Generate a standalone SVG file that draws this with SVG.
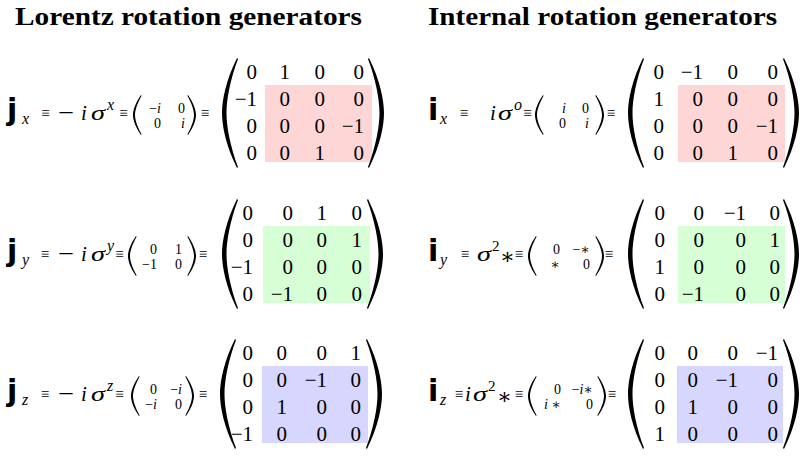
<svg xmlns="http://www.w3.org/2000/svg" xmlns:xlink="http://www.w3.org/1999/xlink" width="800" height="457" viewBox="0 0 800 457">
<style>
text{font-family:"Liberation Serif","DejaVu Serif",serif;fill:#000}
.ttl{font-size:25px;font-weight:bold}
.b{font-family:"DejaVu Sans","Liberation Sans",sans-serif;font-weight:bold;font-size:30px}
.it{font-style:italic}
.sub{font-size:16px;font-style:italic}
.eq{font-size:15px;text-anchor:middle}
.mi{font-size:22px}
.v{font-size:21px;font-style:italic}
.sg{font-size:22px;font-style:italic}
.s{font-size:14px;text-anchor:end}
.m text{font-size:21px;text-anchor:end}
.red{fill:#ffd6d6}
.grn{fill:#d6ffd6}
.blu{fill:#d6d6ff}
.p{fill:#000}
</style>
<defs>
<path id="bl" class="p" d="M15,0 C4,22 0,42 0,55 C0,68 4,88 15,110 L16,109 C8,88 4.5,68 4.5,55 C4.5,42 8,22 16,1 Z"/>
<path id="sl" class="p" d="M8,0 C2.5,8 0,15 0,20 C0,25 2.5,32 8,40 L8.6,39.3 C4.5,32 2,25 2,20 C2,15 4.5,8 8.6,0.7 Z"/>
</defs>
<rect width="800" height="457" fill="#fff"/>
<text class="ttl" x="15" y="25" textLength="347" lengthAdjust="spacingAndGlyphs">Lorentz rotation generators</text>
<text class="ttl" x="428" y="25" textLength="349" lengthAdjust="spacingAndGlyphs">Internal rotation generators</text>

<g id="jx">
<text class="b" x="7" y="120">j</text>
<text class="sub" x="22" y="124">x</text>
<text class="eq" x="45.5" y="118">≡</text>
<text class="mi" x="58" y="120" textLength="16" lengthAdjust="spacingAndGlyphs">−</text>
<text class="v" x="81" y="120">i</text>
<text class="sg" x="91" y="120" textLength="14" lengthAdjust="spacingAndGlyphs">σ</text>
<text class="sub" x="107" y="110">x</text>
<text class="eq" x="123.5" y="118">≡</text>
<use xlink:href="#sl" transform="translate(133,95)"/>
<text class="s" x="161" y="113">−<tspan class="it">i</tspan></text>
<text class="s" x="161" y="128">0</text>
<text class="s" x="185" y="113">0</text>
<text class="s it" x="185" y="128">i</text>
<use xlink:href="#sl" transform="translate(196,95) scale(-1,1)"/>
<text class="eq" x="205" y="118">≡</text>
<rect class="red" x="265" y="85" width="107" height="77"/>
<use xlink:href="#bl" transform="translate(222,58)"/>
<use xlink:href="#bl" transform="translate(384,58) scale(-1,1)"/>
<g class="m">
<text x="257" y="79">0</text><text x="290" y="79">1</text><text x="325" y="79">0</text><text x="364" y="79">0</text>
<text x="257" y="106">−1</text><text x="290" y="106">0</text><text x="325" y="106">0</text><text x="364" y="106">0</text>
<text x="257" y="133">0</text><text x="290" y="133">0</text><text x="325" y="133">0</text><text x="364" y="133">−1</text>
<text x="257" y="160">0</text><text x="290" y="160">0</text><text x="325" y="160">1</text><text x="364" y="160">0</text>
</g>
</g>

<g id="jy">
<text class="b" x="7" y="261">j</text>
<text class="sub" x="22" y="265">y</text>
<text class="eq" x="45" y="259">≡</text>
<text class="mi" x="58" y="261" textLength="16" lengthAdjust="spacingAndGlyphs">−</text>
<text class="v" x="81" y="261">i</text>
<text class="sg" x="91" y="261" textLength="14" lengthAdjust="spacingAndGlyphs">σ</text>
<text class="sub" x="107" y="251">y</text>
<text class="eq" x="119.5" y="259">≡</text>
<use xlink:href="#sl" transform="translate(128,236)"/>
<text class="s" x="157" y="254">0</text>
<text class="s" x="157" y="269">−1</text>
<text class="s" x="182" y="254">1</text>
<text class="s" x="182" y="269">0</text>
<use xlink:href="#sl" transform="translate(196,236) scale(-1,1)"/>
<text class="eq" x="203" y="259">≡</text>
<rect class="grn" x="263" y="226" width="107" height="77"/>
<use xlink:href="#bl" transform="translate(222,199)"/>
<use xlink:href="#bl" transform="translate(383,199) scale(-1,1)"/>
<g class="m">
<text x="253" y="220">0</text><text x="293" y="220">0</text><text x="327" y="220">1</text><text x="362" y="220">0</text>
<text x="253" y="247">0</text><text x="293" y="247">0</text><text x="327" y="247">0</text><text x="362" y="247">1</text>
<text x="253" y="274">−1</text><text x="293" y="274">0</text><text x="327" y="274">0</text><text x="362" y="274">0</text>
<text x="253" y="301">0</text><text x="293" y="301">−1</text><text x="327" y="301">0</text><text x="362" y="301">0</text>
</g>
</g>

<g id="jz">
<text class="b" x="7" y="401">j</text>
<text class="sub" x="22" y="405">z</text>
<text class="eq" x="45" y="399">≡</text>
<text class="mi" x="58" y="401" textLength="16" lengthAdjust="spacingAndGlyphs">−</text>
<text class="v" x="81" y="401">i</text>
<text class="sg" x="91" y="401" textLength="14" lengthAdjust="spacingAndGlyphs">σ</text>
<text class="sub" x="107" y="391">z</text>
<text class="eq" x="119.5" y="399">≡</text>
<use xlink:href="#sl" transform="translate(131,376)"/>
<text class="s" x="157" y="394">0</text>
<text class="s" x="157" y="409">−<tspan class="it">i</tspan></text>
<text class="s" x="182" y="394">−<tspan class="it">i</tspan></text>
<text class="s" x="182" y="409">0</text>
<use xlink:href="#sl" transform="translate(194,376) scale(-1,1)"/>
<text class="eq" x="203" y="399">≡</text>
<rect class="blu" x="262" y="366" width="106" height="77"/>
<use xlink:href="#bl" transform="translate(220,339)"/>
<use xlink:href="#bl" transform="translate(382,339) scale(-1,1)"/>
<g class="m">
<text x="253" y="360">0</text><text x="287" y="360">0</text><text x="327" y="360">0</text><text x="361" y="360">1</text>
<text x="253" y="387">0</text><text x="287" y="387">0</text><text x="327" y="387">−1</text><text x="361" y="387">0</text>
<text x="253" y="414">0</text><text x="287" y="414">1</text><text x="327" y="414">0</text><text x="361" y="414">0</text>
<text x="253" y="441">−1</text><text x="287" y="441">0</text><text x="327" y="441">0</text><text x="361" y="441">0</text>
</g>
</g>

<g id="ix">
<text class="b" x="428" y="120">i</text>
<text class="sub" x="440" y="124">x</text>
<text class="eq" x="464" y="118">≡</text>
<text class="v" x="490" y="120">i</text>
<text class="sg" x="498" y="120" textLength="14" lengthAdjust="spacingAndGlyphs">σ</text>
<text class="sub" x="514" y="110">o</text>
<text class="eq" x="527.5" y="118">≡</text>
<use xlink:href="#sl" transform="translate(535,95)"/>
<text class="s it" x="566" y="113">i</text>
<text class="s" x="566" y="128">0</text>
<text class="s" x="589" y="113">0</text>
<text class="s it" x="589" y="128">i</text>
<use xlink:href="#sl" transform="translate(604,95) scale(-1,1)"/>
<text class="eq" x="611" y="118">≡</text>
<rect class="red" x="678" y="85" width="107" height="77"/>
<use xlink:href="#bl" transform="translate(628,58)"/>
<use xlink:href="#bl" transform="translate(799,58) scale(-1,1)"/>
<g class="m">
<text x="664" y="79">0</text><text x="703" y="79">−1</text><text x="738" y="79">0</text><text x="778" y="79">0</text>
<text x="664" y="106">1</text><text x="703" y="106">0</text><text x="738" y="106">0</text><text x="778" y="106">0</text>
<text x="664" y="133">0</text><text x="703" y="133">0</text><text x="738" y="133">0</text><text x="778" y="133">−1</text>
<text x="664" y="160">0</text><text x="703" y="160">0</text><text x="738" y="160">1</text><text x="778" y="160">0</text>
</g>
</g>

<g id="iy">
<text class="b" x="428" y="261">i</text>
<text class="sub" x="440" y="265">y</text>
<text class="eq" x="465" y="259">≡</text>
<text class="sg" x="477" y="261" textLength="14" lengthAdjust="spacingAndGlyphs">σ</text>
<text x="492" y="251" style="font-size:15px">2</text>
<text x="500" y="264" style="font-size:22px">∗</text>
<text class="eq" x="519" y="259">≡</text>
<use xlink:href="#sl" transform="translate(528,236)"/>
<text class="s" x="560" y="254">0</text>
<text class="s" x="560" y="269">∗</text>
<text class="s" x="590" y="254">−∗</text>
<text class="s" x="590" y="269">0</text>
<use xlink:href="#sl" transform="translate(604,236) scale(-1,1)"/>
<text class="eq" x="609" y="259">≡</text>
<rect class="grn" x="678" y="226" width="107" height="77"/>
<use xlink:href="#bl" transform="translate(628,199)"/>
<use xlink:href="#bl" transform="translate(799,199) scale(-1,1)"/>
<g class="m">
<text x="665" y="220">0</text><text x="704" y="220">0</text><text x="746" y="220">−1</text><text x="780" y="220">0</text>
<text x="665" y="247">0</text><text x="704" y="247">0</text><text x="746" y="247">0</text><text x="780" y="247">1</text>
<text x="665" y="274">1</text><text x="704" y="274">0</text><text x="746" y="274">0</text><text x="780" y="274">0</text>
<text x="665" y="301">0</text><text x="704" y="301">−1</text><text x="746" y="301">0</text><text x="780" y="301">0</text>
</g>
</g>

<g id="iz">
<text class="b" x="428" y="401">i</text>
<text class="sub" x="440" y="405">z</text>
<text class="eq" x="459" y="399">≡</text>
<text class="v" x="465" y="401">i</text>
<text class="sg" x="473" y="401" textLength="14" lengthAdjust="spacingAndGlyphs">σ</text>
<text x="488" y="391" style="font-size:15px">2</text>
<text x="497" y="404" style="font-size:22px">∗</text>
<text class="eq" x="519" y="399">≡</text>
<use xlink:href="#sl" transform="translate(528,376)"/>
<text class="s" x="561" y="394">0</text>
<text class="s" x="561" y="409"><tspan class="it">i</tspan> ∗</text>
<text class="s" x="593" y="394">−<tspan class="it">i</tspan>∗</text>
<text class="s" x="593" y="409">0</text>
<use xlink:href="#sl" transform="translate(606,376) scale(-1,1)"/>
<text class="eq" x="612" y="399">≡</text>
<rect class="blu" x="677" y="366" width="106" height="77"/>
<use xlink:href="#bl" transform="translate(628,339)"/>
<use xlink:href="#bl" transform="translate(799,339) scale(-1,1)"/>
<g class="m">
<text x="665" y="360">0</text><text x="698" y="360">0</text><text x="738" y="360">0</text><text x="778" y="360">−1</text>
<text x="665" y="387">0</text><text x="698" y="387">0</text><text x="738" y="387">−1</text><text x="778" y="387">0</text>
<text x="665" y="414">0</text><text x="698" y="414">1</text><text x="738" y="414">0</text><text x="778" y="414">0</text>
<text x="665" y="441">1</text><text x="698" y="441">0</text><text x="738" y="441">0</text><text x="778" y="441">0</text>
</g>
</g>
</svg>
